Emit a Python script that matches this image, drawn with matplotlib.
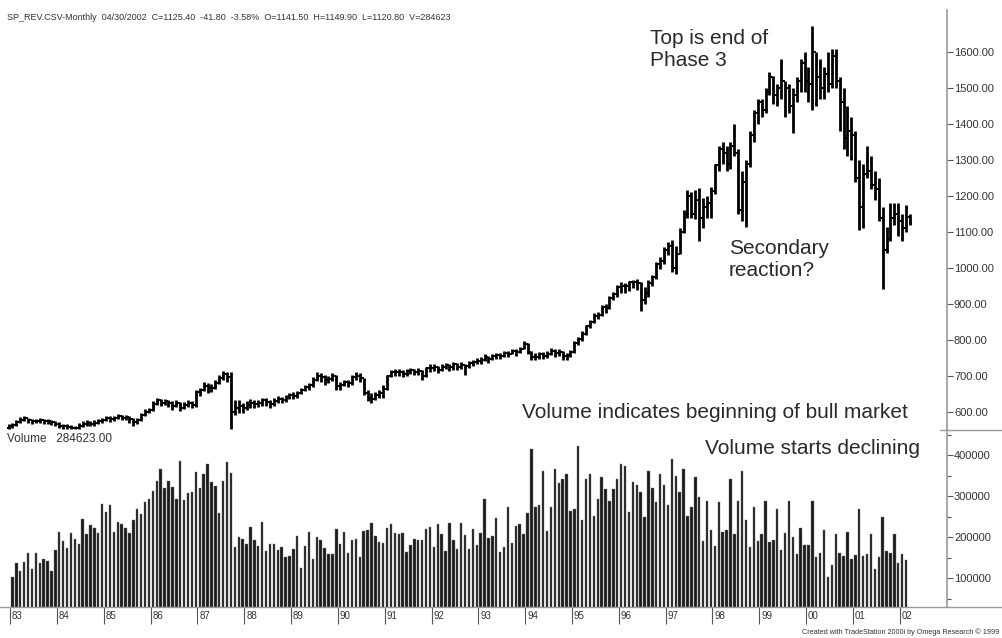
import numpy as np
import matplotlib
matplotlib.use("Agg")
import matplotlib.pyplot as plt
from matplotlib.lines import Line2D

# ---------------- data (monthly, Jan 1983 .. Apr 2002) ----------------
opens = [
 556, 560, 565, 572, 578, 582, 578, 575, 576, 578, 574, 576,
 572, 568, 562, 560, 558, 556, 555, 562, 566, 570, 568, 570,
 574, 578, 582, 580, 584, 588, 584, 586, 580, 572, 578, 592,
 600, 605, 622, 632, 626, 630, 624, 618, 626, 612, 620, 624,
 620, 655, 662, 672, 668, 668, 680, 695, 705, 698, 600, 610,
 618, 612, 620, 626, 622, 625, 632, 628, 622, 630, 636, 634,
 638, 648, 645, 652, 660, 670, 674, 690, 700, 696, 690, 692,
 700, 672, 676, 684, 680, 698, 700, 694, 652, 640, 636, 648,
 654, 664, 700, 712, 710, 712, 706, 714, 716, 712, 714, 700,
 722, 722, 724, 718, 726, 730, 724, 732, 726, 730, 728, 736,
 738, 742, 744, 752, 746, 756, 758, 756, 764, 762, 770, 766,
 774, 790, 766, 752, 754, 760, 756, 762, 770, 764, 768, 756,
 758, 768, 792, 802, 818, 838, 850, 866, 870, 892, 890, 918,
 928, 946, 950, 950, 960, 962, 958, 910, 930, 958, 974, 1010,
 1020, 1050, 1060, 1000, 1040, 1100, 1150, 1200, 1150, 1190, 1140, 1170,
 1180, 1215, 1285, 1330, 1320, 1290, 1340, 1320, 1160, 1240, 1290, 1370,
 1430, 1460, 1440, 1490, 1530, 1480, 1500, 1520, 1500, 1450, 1480, 1520,
 1570, 1520, 1510, 1600, 1530, 1500, 1540, 1510, 1590, 1520, 1460, 1360,
 1380, 1370, 1250, 1170, 1260, 1270, 1230, 1220, 1140, 1050, 1080, 1140,
 1150, 1130, 1110, 1141.5]
highs = [
 566, 570, 578, 585, 588, 584, 580, 581, 583, 580, 581, 578,
 576, 572, 568, 566, 564, 562, 570, 576, 578, 576, 578, 581,
 584, 590, 588, 590, 594, 592, 592, 588, 582, 584, 598, 608,
 612, 630, 640, 636, 636, 634, 630, 632, 628, 628, 632, 630,
 660, 668, 682, 680, 678, 688, 702, 714, 712, 712, 632, 632,
 624, 630, 636, 632, 634, 640, 640, 634, 638, 644, 642, 646,
 654, 656, 658, 666, 676, 680, 698, 712, 708, 702, 700, 708,
 702, 684, 690, 688, 704, 710, 708, 694, 660, 652, 656, 662,
 676, 704, 718, 720, 720, 718, 720, 722, 720, 722, 718, 726,
 734, 732, 728, 732, 736, 734, 738, 736, 738, 734, 742, 744,
 750, 752, 760, 756, 762, 764, 764, 770, 770, 776, 774, 780,
 798, 792, 770, 764, 768, 766, 770, 778, 776, 774, 770, 764,
 772, 796, 808, 824, 842, 856, 874, 878, 898, 900, 922, 934,
 952, 960, 958, 964, 968, 970, 962, 948, 968, 982, 1018, 1032,
 1058, 1072, 1078, 1060, 1110, 1160, 1218, 1210, 1216, 1222, 1196, 1200,
 1225, 1290, 1340, 1350, 1340, 1350, 1400, 1330, 1270, 1300, 1380, 1440,
 1470, 1470, 1500, 1545, 1535, 1510, 1582, 1520, 1510, 1500, 1530, 1580,
 1600, 1560, 1672, 1600, 1580, 1560, 1600, 1610, 1610, 1530, 1500, 1450,
 1420, 1380, 1300, 1290, 1339, 1310, 1270, 1250, 1170, 1115, 1180, 1180,
 1180, 1150, 1175, 1149.9]
lows = [
 552, 556, 562, 570, 574, 570, 568, 569, 570, 567, 568, 565,
 560, 556, 553, 552, 553, 552, 554, 558, 562, 560, 562, 566,
 570, 574, 572, 576, 580, 577, 579, 570, 562, 568, 576, 590,
 596, 602, 620, 616, 620, 614, 606, 614, 602, 608, 614, 610,
 615, 645, 658, 652, 655, 664, 678, 690, 682, 552, 592, 598,
 596, 606, 612, 612, 614, 618, 618, 612, 618, 624, 624, 628,
 636, 636, 640, 650, 658, 662, 670, 686, 684, 674, 680, 686,
 662, 662, 672, 670, 676, 690, 684, 646, 630, 624, 634, 640,
 638, 660, 698, 700, 700, 696, 700, 705, 702, 704, 690, 696,
 712, 714, 708, 714, 720, 714, 718, 716, 720, 704, 722, 728,
 734, 734, 742, 736, 744, 748, 748, 754, 752, 760, 756, 764,
 774, 760, 744, 744, 748, 746, 750, 758, 754, 756, 744, 744,
 752, 764, 786, 798, 814, 834, 846, 858, 866, 876, 886, 910,
 920, 932, 930, 936, 944, 940, 880, 900, 920, 950, 970, 996,
 1010, 1036, 988, 984, 1040, 1096, 1140, 1140, 1136, 1076, 1110, 1140,
 1140, 1205, 1270, 1290, 1270, 1275, 1310, 1150, 1130, 1115, 1280, 1350,
 1400, 1420, 1430, 1480, 1455, 1450, 1470, 1420, 1430, 1374, 1460, 1490,
 1490, 1460, 1440, 1450, 1470, 1470, 1490, 1500, 1500, 1380, 1330, 1310,
 1300, 1240, 1106, 1110, 1250, 1220, 1190, 1130, 941, 1041, 1075, 1120,
 1090, 1075, 1100, 1120.8]
closes = [
 560, 565, 572, 578, 582, 578, 575, 576, 578, 574, 576, 572,
 568, 562, 560, 558, 556, 555, 562, 566, 570, 568, 570, 574,
 578, 582, 580, 584, 588, 584, 586, 580, 572, 578, 592, 600,
 605, 622, 632, 626, 630, 624, 618, 626, 612, 620, 624, 620,
 655, 662, 672, 668, 668, 680, 695, 705, 698, 600, 610, 618,
 612, 620, 626, 622, 625, 632, 628, 622, 630, 636, 634, 638,
 648, 645, 652, 660, 670, 674, 690, 700, 696, 690, 692, 700,
 672, 676, 684, 680, 698, 700, 694, 652, 640, 636, 648, 654,
 664, 700, 712, 710, 712, 706, 714, 716, 712, 714, 700, 722,
 722, 724, 718, 726, 730, 724, 732, 726, 730, 728, 736, 738,
 742, 744, 752, 746, 756, 758, 756, 764, 762, 770, 766, 774,
 790, 766, 752, 754, 760, 756, 762, 770, 764, 768, 756, 758,
 768, 792, 802, 818, 838, 850, 866, 870, 892, 890, 918, 928,
 946, 950, 950, 960, 962, 958, 910, 930, 958, 974, 1010, 1020,
 1050, 1060, 1000, 1040, 1100, 1150, 1200, 1150, 1190, 1140, 1170, 1180,
 1215, 1285, 1330, 1320, 1290, 1340, 1320, 1160, 1240, 1290, 1370, 1430,
 1460, 1440, 1490, 1530, 1480, 1500, 1520, 1500, 1450, 1480, 1520, 1570,
 1520, 1510, 1600, 1530, 1500, 1540, 1510, 1590, 1520, 1460, 1360, 1380,
 1370, 1250, 1170, 1260, 1270, 1230, 1220, 1140, 1050, 1080, 1140, 1150,
 1130, 1110, 1167.2, 1125.4]

# volume in thousands, Feb 1983 .. Mar 2002
volume_k = [
 103, 137, 118, 140, 160, 122, 160, 137, 146, 142, 118, 168,
 213, 190, 172, 209, 194, 182, 243, 207, 229, 223, 211, 280,
 260, 277, 213, 237, 232, 221, 209, 241, 268, 256, 286, 293,
 312, 337, 367, 320, 337, 321, 293, 386, 290, 307, 309, 359,
 319, 354, 377, 334, 325, 259, 337, 384, 355, 175, 201, 196,
 182, 225, 193, 178, 237, 166, 183, 184, 168, 176, 152, 154,
 171, 203, 125, 178, 213, 146, 199,
 193, 174, 159, 159, 220, 183, 212, 160, 193, 196,
 151, 215, 218, 233, 202, 189, 186, 221, 231, 211,
 208, 211, 163, 181, 196, 193, 193, 220, 224, 176,
 231, 208, 165, 233, 193, 171, 233, 206, 171, 220,
 181, 211, 293, 198, 202, 246, 163, 175, 272, 186,
 227, 231, 208, 259, 415, 274, 277, 362, 215, 274,
 365, 331, 342, 353, 264, 268, 422, 241, 342, 353,
 251, 293, 346, 318, 289, 318, 342, 377, 372, 262,
 333, 328, 311, 250, 361, 320, 285, 353, 328, 277,
 390, 349, 309, 365, 251, 272, 347, 298, 190, 289,
 216, 178, 285, 212, 216, 341, 207, 288, 361, 241,
 175, 272, 190, 207, 289, 187, 193, 268, 168, 211,
 289, 201, 159, 222, 180, 181, 287, 152, 160, 216,
 102, 131, 208, 160, 153, 213, 147, 155, 268, 153,
 159, 208, 122, 152, 250, 166, 162, 207, 137, 159,
 144]

year_labels = ["83", "84", "85", "86", "87", "88", "89", "90", "91", "92",
               "93", "94", "95", "96", "97", "98", "99", "00", "01", "02"]
price_ticks = [600, 700, 800, 900, 1000, 1100, 1200, 1300, 1400, 1500, 1600]
volume_ticks = [100000, 200000, 300000, 400000]

title = ("SP_REV.CSV-Monthly  04/30/2002  C=1125.40  -41.80  -3.58%  "
         "O=1141.50  H=1149.90  L=1120.80  V=284623")

# ---------------- figure ----------------
W, H = 1002, 638
fig = plt.figure(figsize=(W / 100, H / 100), dpi=100)
FONT = "Liberation Sans"
GRAY = "#9a9a9a"
TXT = "#333333"


def px_axes(x0, y0, x1, y1):
    return fig.add_axes([x0 / W, 1 - y1 / H, (x1 - x0) / W, (y1 - y0) / H])


def ftext(x, y, s, **kw):
    kw.setdefault("family", FONT)
    return fig.text(x / W, 1 - y / H, s, **kw)


def fline(x0, y0, x1, y1, **kw):
    fig.add_artist(Line2D([x0 / W, x1 / W], [1 - y0 / H, 1 - y1 / H],
                          transform=fig.transFigure, **kw))


ax1 = px_axes(0, 10, 947, 430)
ax2 = px_axes(0, 430, 947, 607)

n = len(closes)
x = np.arange(n)
xlim = (-2.18, 240.5)

# price OHLC bars
ax1.vlines(x, lows, highs, color="black", lw=2.0)
ax1.hlines(opens, x - 0.5, x, color="black", lw=1.4)
ax1.hlines(closes, x, x + 0.5, color="black", lw=1.4)
ax1.set_xlim(*xlim)
ax1.set_ylim(550, 1717)

# volume bars
xv = np.arange(1, 1 + len(volume_k))
ax2.bar(xv, np.array(volume_k) * 1000, width=0.62, color="#1c1c1c",
        edgecolor="#777777", linewidth=0.3)
ax2.set_xlim(*xlim)
ax2.set_ylim(29300, 461000)

for ax in (ax1, ax2):
    ax.set_facecolor("none")
    for s in ("left", "top"):
        ax.spines[s].set_visible(False)
    ax.spines["right"].set_color(GRAY)
    ax.spines["right"].set_linewidth(1.2)
    ax.yaxis.tick_right()
    ax.tick_params(axis="y", which="both", direction="out", color="#555555",
                   labelcolor=TXT, labelsize=8, pad=1, width=0.8)
ax1.spines["bottom"].set_visible(False)
ax2.spines["bottom"].set_color(GRAY)
ax2.spines["bottom"].set_linewidth(1.0)

ax1.set_xticks([])
ax1.set_yticks(price_ticks)
ax1.set_yticklabels([f"{v:.2f}" for v in price_ticks], family=FONT)
ax1.tick_params(axis="y", length=4)

ax2.set_yticks(volume_ticks)
ax2.set_yticklabels([str(v) for v in volume_ticks], family=FONT)
ax2.set_yticks([50000, 150000, 250000, 350000, 450000], minor=True)
ax2.tick_params(axis="y", which="major", length=4)
ax2.tick_params(axis="y", which="minor", length=3)

jan_pos = np.arange(len(year_labels)) * 12 + 0.4
ax2.set_xticks(jan_pos)
ax2.set_xticklabels([""] * len(jan_pos))
ax2.tick_params(axis="x", direction="out", length=12, width=0.8,
                color="#555555")
for p, lab in zip(jan_pos, year_labels):
    ax2.text(p + 0.5, -0.025, lab, transform=ax2.get_xaxis_transform(),
             ha="left", va="top", fontsize=7, color=TXT, family=FONT)

# separators outside axes
fline(940, 430, 1002, 430, color=GRAY, lw=1.0)
fline(947, 607, 1002, 607, color=GRAY, lw=1.0)

# texts
ftext(7, 18, title, fontsize=6.5, color=TXT, va="center")
ftext(7, 439, "Volume   284623.00", fontsize=8.5, color=TXT, va="center")
ftext(999, 632, "Created with TradeStation 2000i by Omega Research \u00a9 1999",
      fontsize=5.2, color=TXT, va="center", ha="right")

ann = dict(fontsize=15, color="#2a2a2a", va="center", linespacing=1.2)
ftext(650, 50, "Top is end of\nPhase 3", **ann)
ftext(729, 260, "Secondary\nreaction?", **ann)
ftext(522, 412, "Volume indicates beginning of bull market", **ann)
ftext(705, 448, "Volume starts declining", **ann)

fig.savefig("out.png", dpi=100)
